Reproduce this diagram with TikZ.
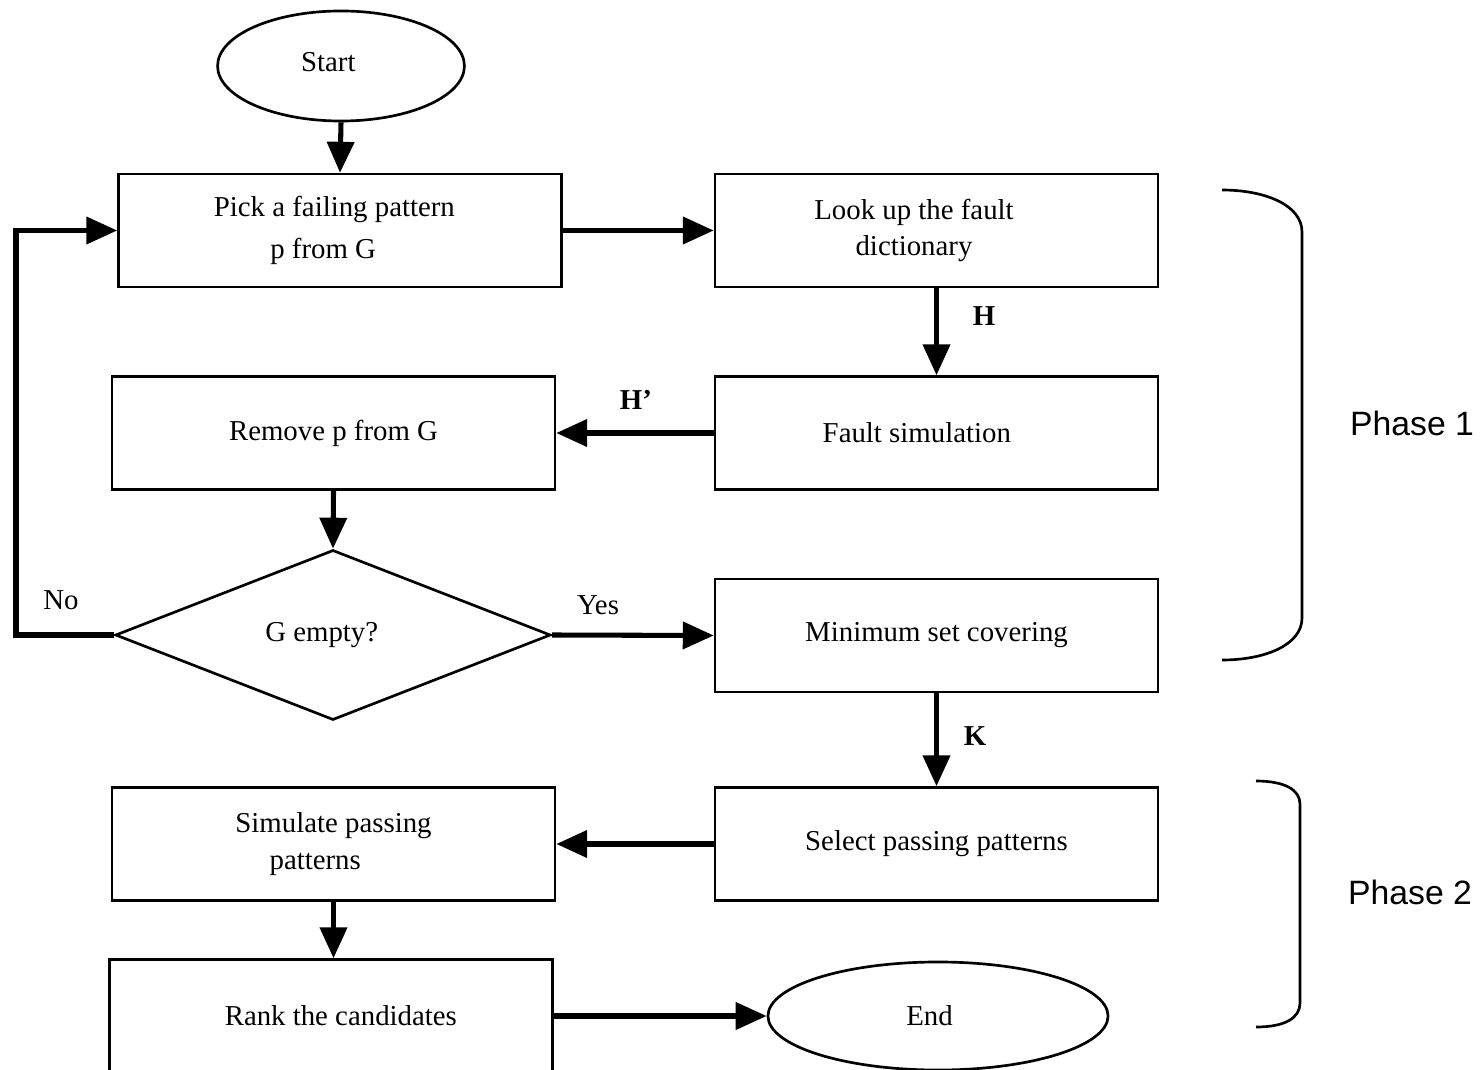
\documentclass[tikz,border=0pt]{standalone}
\usepackage{fontspec}
\setmainfont{Liberation Serif}
\newfontfamily\phasefont{Liberation Sans}
\usetikzlibrary{shapes.geometric,arrows.meta}

\begin{document}
\begin{tikzpicture}[
                x=0.025cm,y=-0.025cm,
                line width=1.9pt,
                font=\fontsize{20.5}{26}\selectfont,
                box/.style={draw,align=center,minimum width=11.07cm,minimum height=2.82cm,inner sep=0pt},
                oval/.style={draw,ellipse,inner sep=0pt},
                flow/.style={-{Triangle[length=22pt,width=19pt]},line width=3.6pt},
                lbl/.style={font=\fontsize{20.5}{26}\selectfont\bfseries},
                phase/.style={font=\phasefont\fontsize{24}{28}\selectfont}] %

\clip (0,0) rectangle (1481,1070);

                    % top
                    \node[oval,minimum width=6.17cm,minimum height=2.75cm] (Start) at (341,66) {\raisebox{6pt}{Start}\hspace*{18pt}};
                    \node[box] (Pick) at (340,230.5) {Pick a failing pattern\hspace*{8pt}\\[4pt] p from G\hspace*{24pt}};
                    \node[box] (LookUp) at (936.5,230.5) {Look up the fault\hspace*{32pt}\\ dictionary\hspace*{32pt}};

                    \draw[flow] (Start.south) to (Pick.north);
                    \draw[flow] (Pick.east) to (LookUp.west);

                    % 2
                    \node[box] (FaultSim) at (936.5,433) {Fault simulation\hspace*{28pt}};
                    \node[box] (Remove) at (333.5,433) {Remove p from G};

                    \draw[flow] (LookUp.south) to (FaultSim.north);
                    \node[lbl] (LabelH) at (984,316) {H};
                    \draw[flow] (FaultSim.west) to (Remove.east);
                    \node[lbl] (LabelHp) at (636,400) {H’};

                    % decision
                    \node[draw,diamond,inner sep=0pt,minimum width=10.88cm,minimum height=4.25cm] (GEmpty) at (333,635) {G empty?\hspace*{16pt}};
                    \node[box] (MinCover) at (936.5,635.5) {Minimum set covering};

                    \draw[flow] (Remove.south) to (GEmpty.north);
                    \draw[flow] (GEmpty.west) -- ([xshift=-2.45cm]GEmpty.west) |- (Pick.west);
                    \node (LabelNo) at (61,600) {No};
                    \draw[flow] (GEmpty.east) to (MinCover.west);
                    \node (LabelYes) at (598,605) {Yes};

                    % phase 2
                    \node[box] (Select) at (936.5,844) {Select passing patterns};
                    \node[box] (Simulate) at (333.5,844) {Simulate passing\\ patterns\hspace*{26pt}};
                    \node[box] (Rank) at (331,1016) {\hspace*{14pt}Rank the candidates};
                    \node[oval,minimum width=8.5cm,minimum height=2.7cm] (End) at (938,1016) {End\hspace*{12pt}};

                    \draw[flow] (MinCover.south) to (Select.north);
                    \node[lbl] (LabelK) at (975,736) {K};
                    \draw[flow] (Select.west) to (Simulate.east);
                    \draw[flow] (Simulate.south) to (Simulate.south |- Rank.north);
                    \draw[flow] (Rank.east) to (End.west);

 % braces
                    \draw (1222,190) .. controls (1265,190) and (1302,205) .. (1302,232)
                      -- (1302,618) .. controls (1302,645) and (1265,660) .. (1222,660);
                    \node[phase] (PhaseA) at (1412,423) {Phase 1};

                    \draw (1256,781) .. controls (1285,781) and (1300,790) .. (1300,804)
                      -- (1300,1003) .. controls (1300,1018) and (1285,1027) .. (1256,1027);
                    \node[phase] (PhaseB) at (1410,892) {Phase 2};

                    \end{tikzpicture}
\end{document}
